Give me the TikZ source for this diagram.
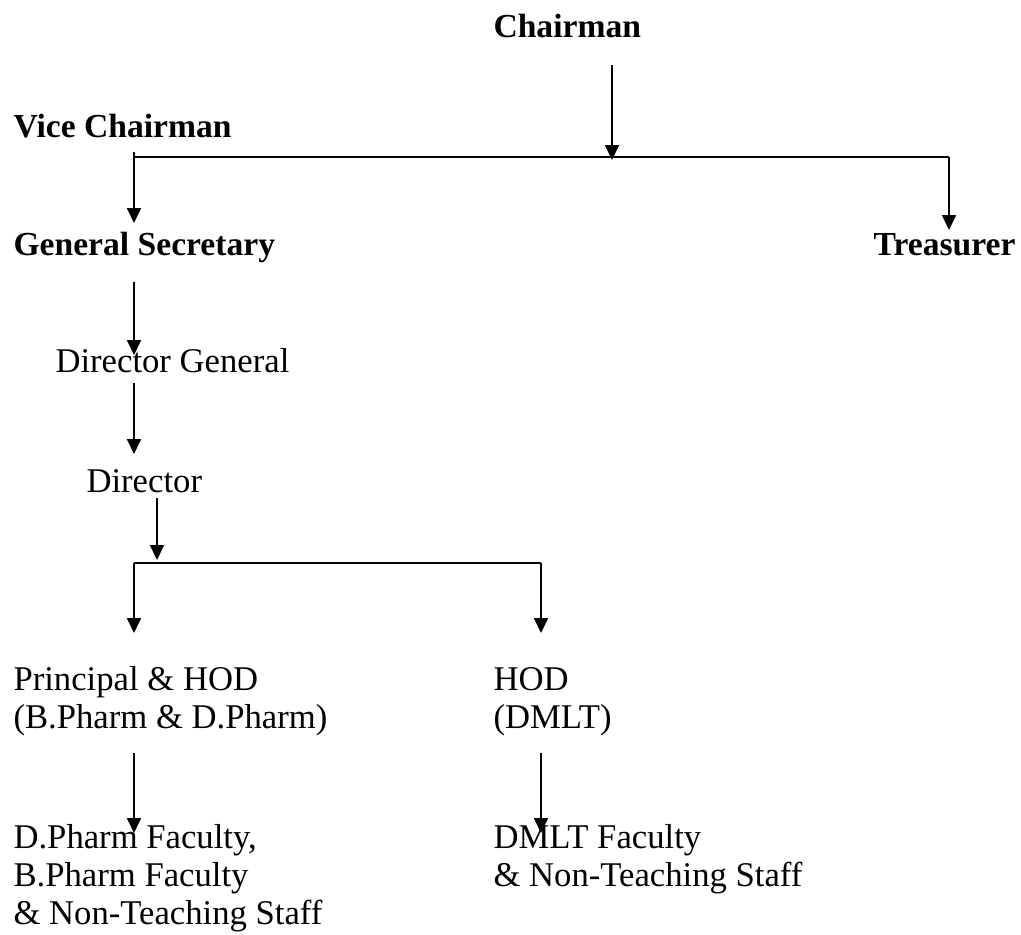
\documentclass[tikz,border=0pt]{standalone}
\usepackage{fontspec}
\setmainfont{Liberation Serif}
\usetikzlibrary{arrows.meta}
\begin{document}
\begin{tikzpicture}[x=0.375pt,y=-0.375pt,
  lbl/.style={inner sep=0pt,anchor=base west,align=left,font=\fontsize{13}{14.25}\selectfont},
  blbl/.style={lbl,font=\fontsize{12.6}{14.25}\selectfont\bfseries},
  conn/.style={line width=0.75pt},
  arr/.style={conn,-{Triangle[length=5.6pt,width=5.2pt]}}]
\useasboundingbox (0,0) rectangle (1021,934);
% nodes (multi-line nodes are anchored at the baseline of their last line)
\node[blbl] (chair) at (493,38) {Chairman};
\node[blbl] (vice) at (13,137) {Vice Chairman};
\node[blbl] (gensec) at (13,255) {General Secretary};
\node[blbl,anchor=base east] (treas) at (1016,255) {Treasurer};
\node[lbl] (dirgen) at (55,372) {Director General};
\node[lbl] (dir) at (86,492) {Director};
\node[lbl] (princ) at (13,728) {Principal \& HOD\\(B.Pharm \& D.Pharm)};
\node[lbl] (hod) at (493,728) {HOD\\(DMLT)};
\node[lbl] (bfac) at (13,924) {D.Pharm Faculty,\\B.Pharm Faculty\\\& Non-Teaching Staff};
\node[lbl] (dfac) at (493,886) {DMLT Faculty\\\& Non-Teaching Staff};
% junction coordinates
\coordinate (chOut) at (612,65);
\coordinate (chIn) at (612,160);
\coordinate (busL) at (134,157);
\coordinate (busLtop) at (134,152);
\coordinate (busR) at (949,157);
\coordinate (gsIn) at (134,223);
\coordinate (trIn) at (949,230);
\coordinate (gsOut) at (134,282);
\coordinate (dgIn) at (134,355);
\coordinate (dgOut) at (134,383);
\coordinate (drIn) at (134,454);
\coordinate (drOut) at (157,498);
\coordinate (drBus) at (157,560);
\coordinate (bus2L) at (134,563);
\coordinate (bus2R) at (541,563);
\coordinate (prIn) at (134,633);
\coordinate (hoIn) at (541,633);
\coordinate (prOut) at (134,753);
\coordinate (hoOut) at (541,753);
\coordinate (bfIn) at (134,833);
\coordinate (dfIn) at (541,833);
% connectors
\draw[arr] (chOut) -- (chIn);
\draw[conn] (busL) -- (busR);
\draw[arr] (busLtop) -- (gsIn);
\draw[arr] (busR) -- (trIn);
\draw[arr] (gsOut) -- (dgIn);
\draw[arr] (dgOut) -- (drIn);
\draw[arr] (drOut) -- (drBus);
\draw[conn] (bus2L) -- (bus2R);
\draw[arr] (bus2L) -- (prIn);
\draw[arr] (bus2R) -- (hoIn);
\draw[arr] (prOut) -- (bfIn);
\draw[arr] (hoOut) -- (dfIn);
\end{tikzpicture}
\end{document}
